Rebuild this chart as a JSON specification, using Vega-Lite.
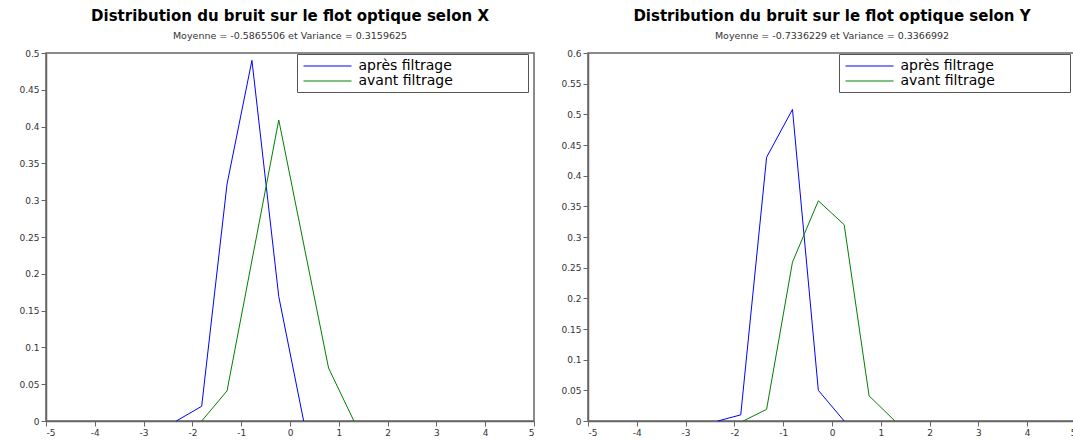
{
  "$schema": "https://vega.github.io/schema/vega-lite/v6.json",
  "padding": {"left": 18, "top": 7, "right": 0, "bottom": 0},
  "background": "white",
  "datasets": {
    "gauche": [
      {"x": -2.33, "y": 0, "serie": "après filtrage"},
      {"x": -1.81, "y": 0.02, "serie": "après filtrage"},
      {"x": -1.29, "y": 0.322, "serie": "après filtrage"},
      {"x": -0.78, "y": 0.49, "serie": "après filtrage"},
      {"x": -0.23, "y": 0.169, "serie": "après filtrage"},
      {"x": 0.28, "y": 0, "serie": "après filtrage"},
      {"x": -1.81, "y": 0, "serie": "avant filtrage"},
      {"x": -1.29, "y": 0.041, "serie": "avant filtrage"},
      {"x": -0.23, "y": 0.409, "serie": "avant filtrage"},
      {"x": 0.79, "y": 0.072, "serie": "avant filtrage"},
      {"x": 1.31, "y": 0, "serie": "avant filtrage"}
    ],
    "droite": [
      {"x": -2.34, "y": 0, "serie": "après filtrage"},
      {"x": -1.87, "y": 0.01, "serie": "après filtrage"},
      {"x": -1.34, "y": 0.43, "serie": "après filtrage"},
      {"x": -0.81, "y": 0.508, "serie": "après filtrage"},
      {"x": -0.28, "y": 0.05, "serie": "après filtrage"},
      {"x": 0.25, "y": 0, "serie": "après filtrage"},
      {"x": -1.82, "y": 0, "serie": "avant filtrage"},
      {"x": -1.34, "y": 0.019, "serie": "avant filtrage"},
      {"x": -0.81, "y": 0.259, "serie": "avant filtrage"},
      {"x": -0.28, "y": 0.359, "serie": "avant filtrage"},
      {"x": 0.25, "y": 0.32, "serie": "avant filtrage"},
      {"x": 0.76, "y": 0.041, "serie": "avant filtrage"},
      {"x": 1.29, "y": 0, "serie": "avant filtrage"}
    ]
  },
  "config": {
    "font": "DejaVu Sans",
    "view": {"stroke": "#666666", "strokeWidth": 1.5},
    "title": {
      "font": "DejaVu Sans", "fontSize": 15, "fontWeight": "bold", "color": "#000000",
      "subtitleFont": "DejaVu Sans", "subtitleFontSize": 9.5, "subtitleColor": "#333333",
      "subtitlePadding": 7, "offset": 9, "anchor": "middle"
    },
    "axis": {
      "domainColor": "#666666", "domainWidth": 1.5, "tickColor": "#666666", "tickWidth": 1,
      "tickSize": 5, "labelColor": "#333333", "labelFont": "DejaVu Sans", "labelFontSize": 9,
      "labelPadding": 2, "grid": false, "title": null
    },
    "legend": {
      "orient": "none", "legendX": 251, "legendY": 1, "title": null,
      "symbolType": "M-3.2,0H3.2", "symbolSize": 225, "symbolStrokeWidth": 1, "symbolOffset": 18.5,
      "labelFont": "DejaVu Sans", "labelFontSize": 14, "labelColor": "#000000",
      "labelOffset": 23, "rowPadding": 0, "padding": 4, "labelLimit": 0,
      "strokeColor": "#555555", "fillColor": "white"
    },
    "concat": {"spacing": 24}
  },
  "hconcat": [
    {
      "width": 488, "height": 368,
      "title": {"text": "Distribution du bruit sur le flot optique selon X", "subtitle": "Moyenne = -0.5865506 et Variance = 0.3159625"},
      "data": {"name": "gauche"},
      "mark": {"type": "line", "strokeWidth": 1},
      "encoding": {
        "x": {"field": "x", "type": "quantitative", "scale": {"domain": [-5, 5], "nice": false},
              "axis": {"values": [-5, -4, -3, -2, -1, 0, 1, 2, 3, 4, 5], "labelExpr": "'' + datum.value"}},
        "y": {"field": "y", "type": "quantitative", "scale": {"domain": [0, 0.5], "nice": false},
              "axis": {"values": [0, 0.05, 0.1, 0.15, 0.2, 0.25, 0.3, 0.35, 0.4, 0.45, 0.5], "format": ".2~f"}},
        "color": {"field": "serie", "type": "nominal",
                  "scale": {"domain": ["après filtrage", "avant filtrage"], "range": ["#0000ff", "#008000"]},
                  "legend": {"labelExpr": "datum.label + '\u00a0\u00a0\u00a0\u00a0\u00a0\u00a0\u00a0\u00a0\u00a0\u00a0\u00a0\u00a0\u00a0\u00a0\u00a0\u00a0\u200b'"}},
        "order": {"field": "x", "type": "quantitative"}
      }
    },
    {
      "width": 488, "height": 368,
      "title": {"text": "Distribution du bruit sur le flot optique selon Y", "subtitle": "Moyenne = -0.7336229 et Variance = 0.3366992"},
      "data": {"name": "droite"},
      "mark": {"type": "line", "strokeWidth": 1},
      "encoding": {
        "x": {"field": "x", "type": "quantitative", "scale": {"domain": [-5, 5], "nice": false},
              "axis": {"values": [-5, -4, -3, -2, -1, 0, 1, 2, 3, 4, 5], "labelExpr": "'' + datum.value"}},
        "y": {"field": "y", "type": "quantitative", "scale": {"domain": [0, 0.6], "nice": false},
              "axis": {"values": [0, 0.05, 0.1, 0.15, 0.2, 0.25, 0.3, 0.35, 0.4, 0.45, 0.5, 0.55, 0.6], "format": ".2~f"}},
        "color": {"field": "serie", "type": "nominal",
                  "scale": {"domain": ["après filtrage", "avant filtrage"], "range": ["#0000ff", "#008000"]},
                  "legend": {"labelExpr": "datum.label + '\u00a0\u00a0\u00a0\u00a0\u00a0\u00a0\u00a0\u00a0\u00a0\u00a0\u00a0\u00a0\u00a0\u00a0\u00a0\u00a0\u200b'"}},
        "order": {"field": "x", "type": "quantitative"}
      }
    }
  ],
  "resolve": {"scale": {"color": "independent", "y": "independent"}, "legend": {"color": "independent"}}
}
